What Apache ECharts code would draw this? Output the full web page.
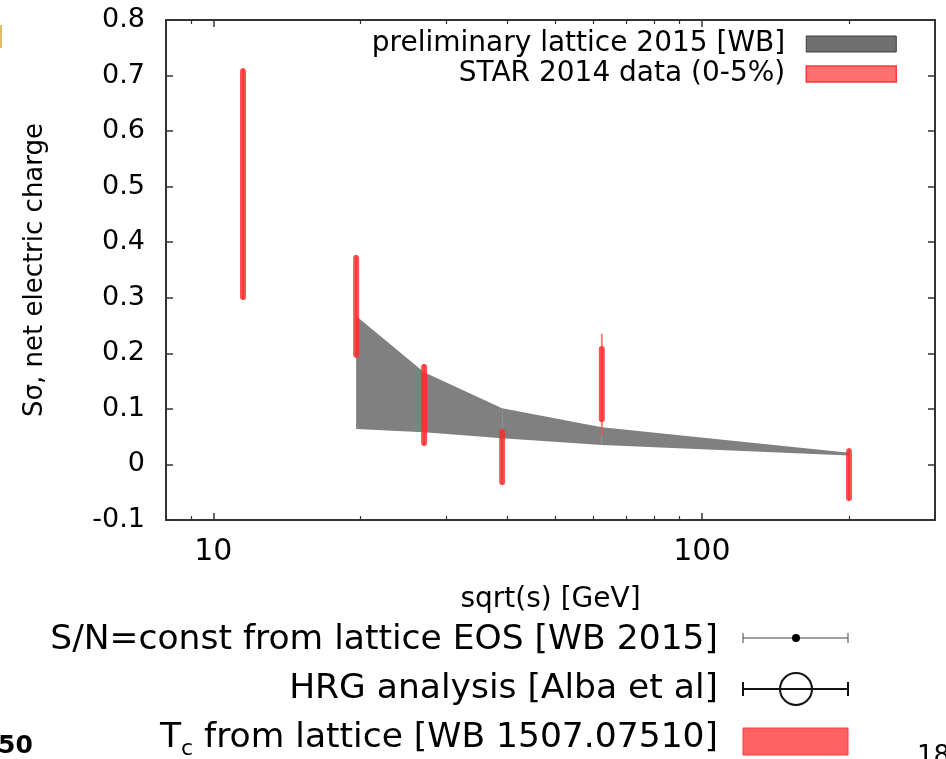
<!DOCTYPE html>
<html><head><meta charset="utf-8">
<script src="https://cdn.jsdelivr.net/npm/echarts@6/dist/echarts.min.js"></script>
<style>html,body{margin:0;padding:0;background:#fff}#c{width:946px;height:759px}</style>
</head><body><div id="c"></div>
<script>
// ---- data ----
const energies      = [11.5, 19.6, 27, 39, 62.4, 200];
const starLow       = [0.296, 0.192, 0.033, -0.037, 0.076, -0.066];
const starHigh      = [0.713, 0.377, 0.181, 0.064, 0.213, 0.029];
const starOuterLow  = [0.296, 0.192, 0.033, -0.037, 0.053, -0.066];
const starOuterHigh = [0.713, 0.377, 0.181, 0.064, 0.235, 0.029];
const latticeEnergies = [19.6, 27, 39, 62.4, 200];
const latticeLow      = [0.064, 0.058, 0.047, 0.035, 0.016];
const latticeHigh     = [0.267, 0.166, 0.101, 0.067, 0.021];
const xMajorTicks = [10, 100];
const xMinorTicks = [9, 20, 30, 40, 50, 60, 70, 80, 90, 200];
const xRange = [8, 300];
const yRange = [-0.1, 0.8];
const yStep = 0.1;
const seriesNames = ['preliminary lattice 2015 [WB]', 'STAR 2014 data (0-5%)'];
const extraLegend = ['S/N=const from lattice EOS [WB 2015]', 'HRG analysis [Alba et al]', ' from lattice [WB 1507.07510]'];

const FONT = 'DejaVu Sans';
const AX = '#333333';
const chart = echarts.init(document.getElementById('c'), null, {renderer: 'canvas'});

function xAx(pos, opts) {
  return Object.assign({
    type: 'log', logBase: 10, min: xRange[0], max: xRange[1], position: pos,
    axisLine: {show: true, onZero: false, lineStyle: {color: AX, width: 2}},
    axisTick: {show: true, inside: true, length: 7, customValues: xMajorTicks, lineStyle: {color: AX, width: 1.5}},
    axisLabel: {show: false},
    splitLine: {show: false}, minorTick: {show: false}, minorSplitLine: {show: false}
  }, opts);
}
function xMinor(pos) {
  return xAx(pos, {
    axisLine: {show: false, onZero: false},
    axisTick: {show: true, inside: true, length: 4, customValues: xMinorTicks, lineStyle: {color: AX, width: 1.2}}
  });
}
function yAx(pos, opts) {
  return Object.assign({
    type: 'value', min: yRange[0], max: yRange[1], interval: yStep, position: pos,
    axisLine: {show: true, onZero: false, lineStyle: {color: AX, width: 2}},
    axisTick: {show: true, inside: true, length: 7, lineStyle: {color: AX, width: 1.5}},
    axisLabel: {show: false},
    splitLine: {show: false}
  }, opts);
}

const option = {
  animation: false,
  backgroundColor: '#ffffff',
  grid: {left: 166, right: 11, top: 20, bottom: 239, containLabel: false},
  xAxis: [
    xAx('bottom', {
      name: 'sqrt(s) [GeV]', nameLocation: 'middle', nameGap: 66,
      nameTextStyle: {fontFamily: FONT, fontSize: 28, color: '#000'},
      axisLabel: {show: true, customValues: xMajorTicks, margin: 17, fontFamily: FONT, fontSize: 30, color: '#000'}
    }),
    xAx('top', {}),
    xMinor('bottom'),
    xMinor('top')
  ],
  yAxis: [
    yAx('left', {
      name: 'S\u03c3, net electric charge', nameLocation: 'middle', nameGap: 118, nameRotate: 90,
      nameTextStyle: {fontFamily: FONT, fontSize: 26, color: '#000'},
      axisLabel: {show: true, margin: 21, fontFamily: FONT, fontSize: 27, color: '#000'}
    }),
    yAx('right', {})
  ],
  legend: {
    orient: 'vertical', right: 44, top: 25, align: 'right',
    itemWidth: 90, itemHeight: 16, itemGap: 2, selectedMode: false,
    textStyle: {fontFamily: FONT, fontSize: 28, color: '#000', padding: [0, 16, 0, 0]},
    data: [
      {name: seriesNames[0], icon: 'rect', itemStyle: {color: '#707070', borderColor: '#3c3c3c', borderWidth: 1}},
      {name: seriesNames[1], icon: 'rect', itemStyle: {color: '#ff7070', borderColor: '#ff3838', borderWidth: 1.5}}
    ]
  },
  series: [
    {
      name: seriesNames[0], type: 'custom', xAxisIndex: 0, yAxisIndex: 0, z: 2,
      data: latticeEnergies.map((e, i) => [e, latticeLow[i], latticeHigh[i]]),
      encode: {x: 0, y: [1, 2]},
      renderItem: function (params, api) {
        const i = params.dataIndex;
        if (i >= latticeEnergies.length - 1) return null;
        const pts = [
          api.coord([latticeEnergies[i], latticeHigh[i]]),
          api.coord([latticeEnergies[i + 1], latticeHigh[i + 1]]),
          api.coord([latticeEnergies[i + 1], latticeLow[i + 1]]),
          api.coord([latticeEnergies[i], latticeLow[i]])
        ];
        return {type: 'polygon', shape: {points: pts}, style: {fill: '#808080'}};
      }
    },
    {
      name: seriesNames[1], type: 'custom', xAxisIndex: 0, yAxisIndex: 0, z: 3,
      data: energies.map((e, i) => [e, starLow[i], starHigh[i], starOuterLow[i], starOuterHigh[i]]),
      encode: {x: 0, y: [1, 2, 3, 4]},
      renderItem: function (params, api) {
        const e = api.value(0);
        const lo = api.coord([e, api.value(1)]), hi = api.coord([e, api.value(2)]);
        const olo = api.coord([e, api.value(3)]), ohi = api.coord([e, api.value(4)]);
        return {type: 'group', children: [
          {type: 'rect', shape: {x: olo[0] - 1, y: ohi[1], width: 2, height: olo[1] - ohi[1]},
           style: {fill: 'rgba(255,70,70,0.7)'}},
          {type: 'rect', shape: {x: lo[0] - 3, y: hi[1], width: 6, height: lo[1] - hi[1], r: 3},
           style: {fill: 'rgba(255,40,40,0.8)'}}
        ]};
      }
    }
  ],
  graphic: [
    {type: 'line', shape: {x1: 1, y1: 25, x2: 1, y2: 48}, style: {stroke: '#d9a441', lineWidth: 1.5}},
    {type: 'text', style: {text: extraLegend[0], x: 718, y: 640, align: 'right', verticalAlign: 'middle',
      fontFamily: FONT, fontSize: 34.5, fill: '#000'}},
    {type: 'text', style: {text: extraLegend[1], x: 718, y: 689, align: 'right', verticalAlign: 'middle',
      fontFamily: FONT, fontSize: 34.5, fill: '#000'}},
    {type: 'text', style: {text: '{t|T}{s|c}{n|' + extraLegend[2] + '}', x: 718, y: 738, align: 'right', verticalAlign: 'middle',
      rich: {
        t: {fontFamily: FONT, fontSize: 34.5, fill: '#000'},
        s: {fontFamily: FONT, fontSize: 22, fill: '#000', padding: [22, 0, 0, 0]},
        n: {fontFamily: FONT, fontSize: 34.5, fill: '#000'}
      }}},
    // S/N symbol
    {type: 'line', shape: {x1: 743, y1: 638, x2: 848, y2: 638}, style: {stroke: '#444', lineWidth: 1}},
    {type: 'line', shape: {x1: 743, y1: 633, x2: 743, y2: 643}, style: {stroke: '#444', lineWidth: 1}},
    {type: 'line', shape: {x1: 848, y1: 633, x2: 848, y2: 643}, style: {stroke: '#444', lineWidth: 1}},
    {type: 'circle', shape: {cx: 796, cy: 638, r: 4}, style: {fill: '#000'}},
    // HRG symbol
    {type: 'line', shape: {x1: 743, y1: 689, x2: 848, y2: 689}, style: {stroke: '#111', lineWidth: 2}},
    {type: 'line', shape: {x1: 743, y1: 682, x2: 743, y2: 696}, style: {stroke: '#111', lineWidth: 2}},
    {type: 'line', shape: {x1: 848, y1: 682, x2: 848, y2: 696}, style: {stroke: '#111', lineWidth: 2}},
    {type: 'circle', shape: {cx: 796, cy: 689, r: 16}, style: {fill: 'none', stroke: '#111', lineWidth: 2}},
    // Tc symbol
    {type: 'rect', shape: {x: 743, y: 728, width: 105, height: 27}, style: {fill: '#ff6262', stroke: '#ff3a3a', lineWidth: 1}},
    // slide fragments
    {type: 'text', style: {text: '50', x: -2, y: 746, verticalAlign: 'middle', fontFamily: FONT, fontSize: 25, fontWeight: 'bold', fill: '#000'}},
    {type: 'text', style: {text: '18', x: 917, y: 744, verticalAlign: 'top', fontFamily: FONT, fontSize: 26, fill: '#000'}}
  ]
};
chart.setOption(option);
</script>
</body></html>
